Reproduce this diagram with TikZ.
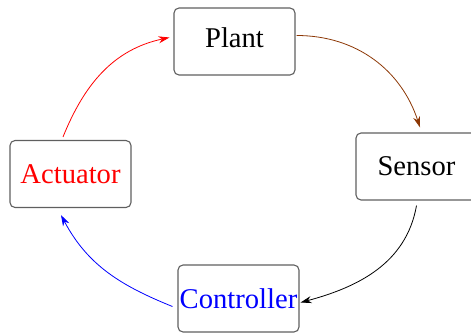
\documentclass[tikz,border=0pt]{standalone}
\usepackage{fontspec}
\setmainfont{Liberation Serif}
\usetikzlibrary{arrows.meta}
\definecolor{arrbrown}{RGB}{140,55,5}
\definecolor{boxgray}{RGB}{95,95,95}
\begin{document}
\begin{tikzpicture}[x=1pt,y=1pt,
  blk/.style={draw=boxgray,line width=1.1pt,rounded corners=5pt,
    minimum width=121pt,minimum height=67pt,inner sep=0pt,
    font=\fontsize{28.6}{32}\selectfont},
  arr/.style={line width=0.8pt,-{Stealth[length=11pt,width=7pt,inset=3.5pt]}}]
\useasboundingbox (0,0) rectangle (471,333);
\node[blk] (plant) at (234.5,291.5) [text depth=8pt] {Plant};
\node[blk] (sensor) at (416.5,166.5) {Sensor};
\node[blk,text=red] (act) at (70.5,159) {Actuator};
\node[blk,text=blue] (ctrl) at (238.5,34.5) {Controller};
\draw[arr,red] ([shift={(-7.5,3)}]act.north) to[out=68,in=192] ([shift={(-4,4)}]plant.west);
\draw[arr,arrbrown] ([shift={(1,6)}]plant.east) to[out=0,in=108] ([shift={(3.5,5)}]sensor.north);
\draw[arr,black] ([shift={(0,-5)}]sensor.south) to[out=-100,in=15] ([shift={(1,-4)}]ctrl.east);
\draw[arr,blue] ([shift={(-5,-8)}]ctrl.west) to[out=158,in=-62] ([shift={(-9.5,-7)}]act.south);
\end{tikzpicture}
\end{document}
